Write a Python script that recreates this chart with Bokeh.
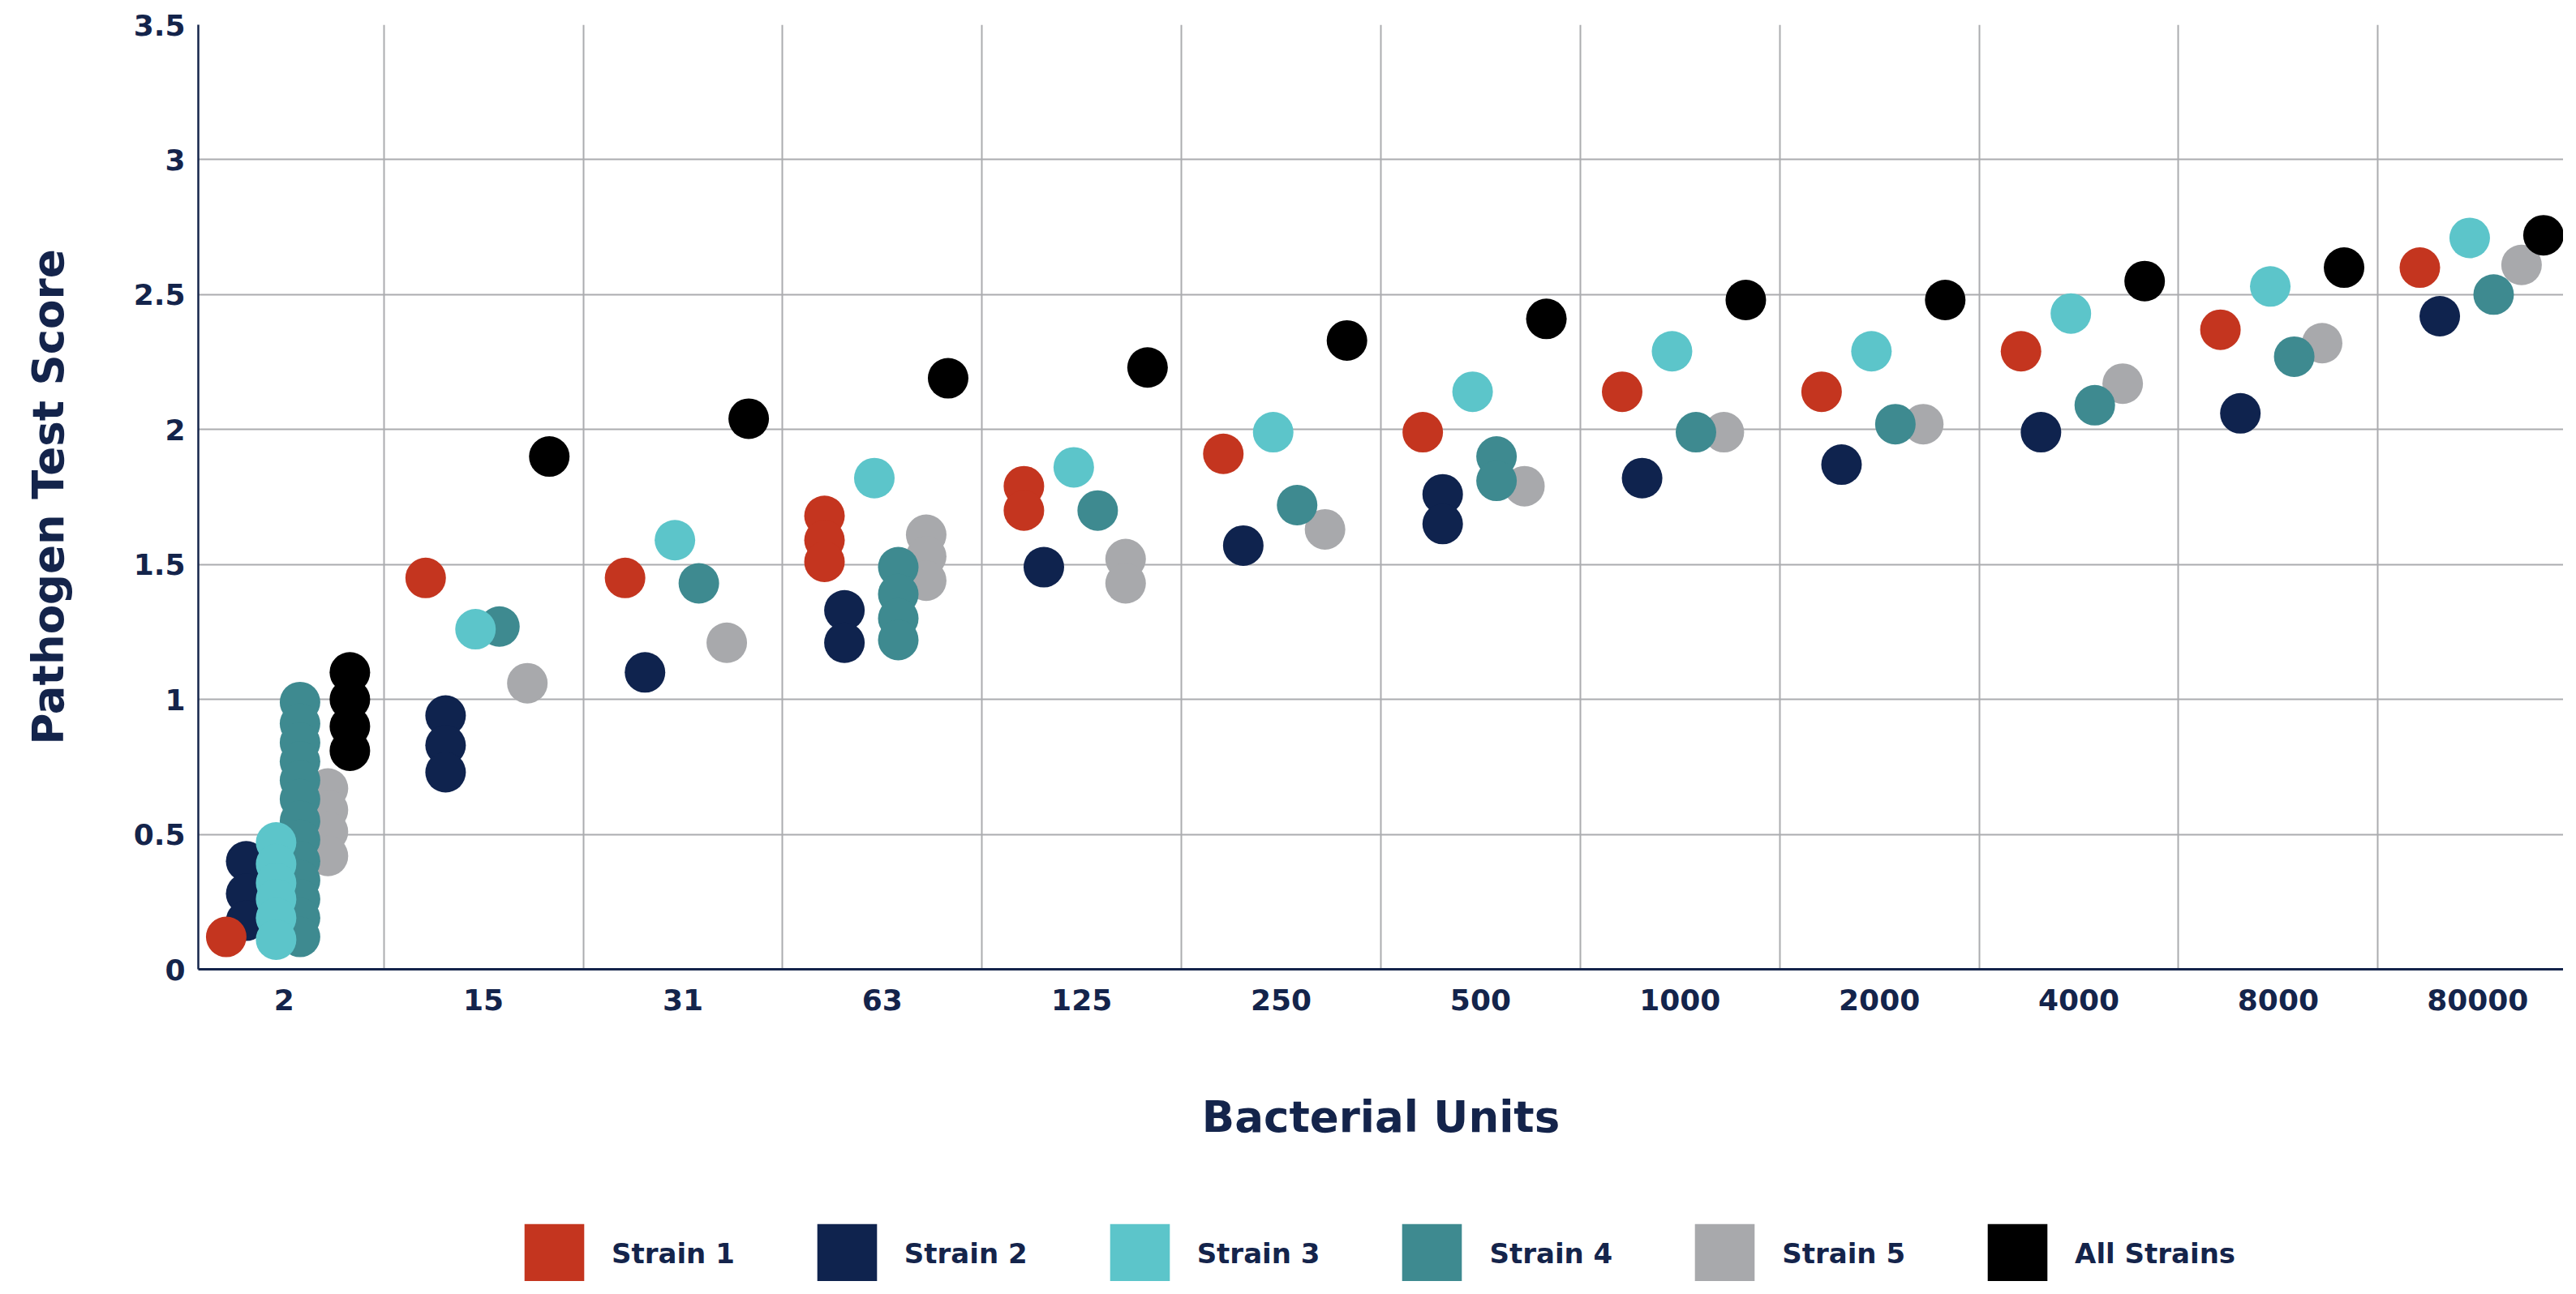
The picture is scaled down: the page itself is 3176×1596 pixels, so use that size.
from bokeh.plotting import figure
from bokeh.layouts import column
from bokeh.models import (FactorRange, Range1d, ColumnDataSource, Legend, LegendItem,
                          FixedTicker, NumeralTickFormatter)
from bokeh.transform import dodge
from bokeh.embed import file_html
from bokeh.resources import INLINE

# ---------------- data ----------------
categories = ["2", "15", "31", "63", "125", "250", "500", "1000", "2000", "4000", "8000", "80000"]
y_ticks = [0, 0.5, 1, 1.5, 2, 2.5, 3, 3.5]

strain1_units = ["2", "15", "31", "63", "63", "63", "125", "125", "250", "500", "1000", "2000", "4000", "8000", "80000"]
strain1_score = [0.12, 1.45, 1.45, 1.68, 1.59, 1.51, 1.79, 1.70, 1.91, 1.99, 2.14, 2.14, 2.29, 2.37, 2.60]

strain2_units = ["2", "2", "2", "15", "15", "15", "31", "63", "63", "125", "250", "500", "500", "1000", "2000", "4000", "8000", "80000"]
strain2_score = [0.40, 0.28, 0.18, 0.94, 0.83, 0.73, 1.10, 1.33, 1.21, 1.49, 1.57, 1.76, 1.65, 1.82, 1.87, 1.99, 2.06, 2.42]

strain3_units = ["2", "2", "2", "2", "2", "2", "15", "31", "63", "125", "250", "500", "1000", "2000", "4000", "8000", "80000"]
strain3_score = [0.47, 0.39, 0.32, 0.26, 0.19, 0.11, 1.26, 1.59, 1.82, 1.86, 1.99, 2.14, 2.29, 2.29, 2.43, 2.53, 2.71]

strain4_units = ["2"] * 13 + ["15", "31", "63", "63", "63", "63", "125", "250", "500", "500", "1000", "2000", "4000", "8000", "80000"]
strain4_score = [0.99, 0.91, 0.84, 0.77, 0.70, 0.63, 0.55, 0.48, 0.40, 0.33, 0.26, 0.19, 0.12,
                 1.27, 1.43, 1.49, 1.39, 1.30, 1.22, 1.70, 1.72, 1.90, 1.81, 1.99, 2.02, 2.09, 2.27, 2.50]

strain5_units = ["2", "2", "2", "2", "15", "31", "63", "63", "63", "125", "125", "250", "500", "1000", "2000", "4000", "8000", "80000"]
strain5_score = [0.67, 0.59, 0.51, 0.42, 1.06, 1.21, 1.61, 1.53, 1.44, 1.52, 1.43, 1.63, 1.79, 1.99, 2.02, 2.17, 2.32, 2.61]

all_units = ["2", "2", "2", "2", "15", "31", "63", "125", "250", "500", "1000", "2000", "4000", "8000", "80000"]
all_score = [1.10, 1.00, 0.90, 0.81, 1.90, 2.04, 2.19, 2.23, 2.33, 2.41, 2.48, 2.48, 2.55, 2.60, 2.72]

series_names = ["Strain 1", "Strain 2", "Strain 3", "Strain 4", "Strain 5", "All Strains"]

# ---------------- styles ----------------
NAVY = "#14244B"
GRID = "#ABACAF"
FONT = "DejaVu Sans"
W = 3160
styles = {
    "Strain 1": dict(color="#C4351F", offset=-0.29),
    "Strain 2": dict(color="#0F234E", offset=-0.19),
    "Strain 3": dict(color="#5CC5CA", offset=-0.04),
    "Strain 4": dict(color="#3E8A90", offset=0.08),
    "Strain 5": dict(color="#A8A9AC", offset=0.22),
    "All Strains": dict(color="#000000", offset=0.33),
}
series = {
    "Strain 1": (strain1_units, strain1_score),
    "Strain 2": (strain2_units, strain2_score),
    "Strain 3": (strain3_units, strain3_score),
    "Strain 4": (strain4_units, strain4_score),
    "Strain 5": (strain5_units, strain5_score),
    "All Strains": (all_units, all_score),
}
draw_order = ["Strain 2", "Strain 5", "Strain 4", "Strain 3", "Strain 1", "All Strains"]

x_range = FactorRange(*categories, range_padding=-0.07, range_padding_units="absolute")
p = figure(x_range=x_range, y_range=Range1d(0, 3.5),
           width=W, height=1488, output_backend="svg", toolbar_location=None,
           min_border_left=244, min_border_right=0, min_border_top=30, min_border_bottom=293)
p.outline_line_color = None
p.background_fill_color = "white"

for name in draw_order:
    units, score = series[name]
    src = ColumnDataSource(dict(units=units, score=score))
    st = styles[name]
    p.scatter(x=dodge("units", st["offset"], range=p.x_range), y="score", source=src,
              size=50, marker="circle", fill_color=st["color"], line_color=None)

# grids
p.ygrid.ticker = FixedTicker(ticks=y_ticks)
p.ygrid.grid_line_color = GRID
p.ygrid.grid_line_width = 2
p.xgrid.ticker = FixedTicker(ticks=list(range(1, len(categories))))
p.xgrid.grid_line_color = GRID
p.xgrid.grid_line_width = 2

# axes
xa = p.xaxis[0]
xa.axis_label = "Bacterial Units"
xa.axis_line_color = NAVY
xa.axis_line_width = 3
xa.major_tick_line_color = None
xa.minor_tick_line_color = None
xa.major_label_standoff = 18
xa.major_label_text_font = FONT
xa.major_label_text_font_style = "bold"
xa.major_label_text_font_size = "36px"
xa.major_label_text_color = NAVY
xa.axis_label_standoff = 98
xa.axis_label_text_font = FONT
xa.axis_label_text_font_style = "bold"
xa.axis_label_text_font_size = "53px"
xa.axis_label_text_color = NAVY

ya = p.yaxis[0]
ya.ticker = FixedTicker(ticks=y_ticks)
ya.formatter = NumeralTickFormatter(format="0.[0]")
ya.axis_label = "Pathogen Test Score"
ya.axis_line_color = NAVY
ya.axis_line_width = 2.5
ya.major_tick_line_color = None
ya.minor_tick_line_color = None
ya.major_label_standoff = 10
ya.major_label_text_font = FONT
ya.major_label_text_font_style = "bold"
ya.major_label_text_font_size = "36px"
ya.major_label_text_color = NAVY
ya.axis_label_standoff = 72
ya.axis_label_text_font = FONT
ya.axis_label_text_font_style = "bold"
ya.axis_label_text_font_size = "53px"
ya.axis_label_text_color = NAVY

# ---------------- legend strip ----------------
lg = figure(width=W, height=92, output_backend="svg", toolbar_location=None,
            x_range=Range1d(0, 1), y_range=Range1d(0, 1),
            x_axis_type=None, y_axis_type=None, min_border=0)
lg.outline_line_color = None
lg.xgrid.visible = False
lg.ygrid.visible = False
nan = float("nan")
items = []
for name in series_names:
    # legend-only proxy (NaN coordinates: nothing is drawn in the strip itself)
    r = lg.quad(left=[nan], right=[nan], top=[nan], bottom=[nan],
                fill_color=styles[name]["color"], line_color=None)
    items.append(LegendItem(label=name, renderers=[r]))

legend = Legend(items=items, orientation="horizontal", location=(393, -12),
                glyph_width=92, glyph_height=92, label_standoff=25, spacing=92,
                padding=0, margin=0, border_line_color=None, background_fill_alpha=0,
                label_text_font=FONT, label_text_font_style="bold",
                label_text_font_size="34px", label_text_color=NAVY)
lg.add_layout(legend)

layout = column(p, lg, spacing=0)
open("out.html", "w").write(file_html(layout, INLINE))
